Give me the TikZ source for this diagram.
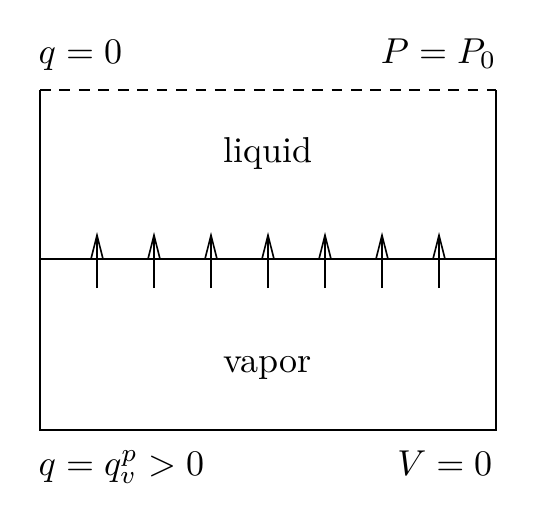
\documentclass[tikz,border=0pt]{standalone}
\usetikzlibrary{arrows.meta}
\begin{document}
\begin{tikzpicture}[x=0.2778pt,y=-0.2778pt,
  wall/.style={line width=0.45pt},
  flux/.style={-{Straight Barb[length=6.5pt,width=3.3pt,line width=0.45pt]},line width=0.45pt},
  lbl/.style={inner sep=0pt,font=\normalsize}]
\useasboundingbox (0,0) rectangle (534,504);
% box
\coordinate (tl) at (40,90);
\coordinate (tr) at (496,90);
\coordinate (bl) at (40,430);
\coordinate (br) at (496,430);
\draw[wall] (tl) -- (bl) -- (br) -- (tr);
\draw[wall,dash pattern=on 3pt off 2.4pt] (tl) -- (tr);
% interface
\coordinate (il) at (40,259);
\coordinate (ir) at (496,259);
\draw[wall] (il) -- (ir);
\foreach \k in {1,...,7}{
  \coordinate (a\k) at ({40+57*\k},288);
  \coordinate (b\k) at ({40+57*\k},232);
  \draw[flux] (a\k) -- (b\k);
}
% labels
\node[lbl,anchor=base west] (qtop) at (38,63) {$q=0$};
\node[lbl,anchor=base east] (ptop) at (497,63) {$P=P_0$};
\node[lbl,anchor=base] (liq) at (268,162) {liquid};
\node[lbl,anchor=base] (vap) at (268,372) {vapor};
\node[lbl,anchor=base west] (qbot) at (38,475) {$q=q_v^p>0$};
\node[lbl,anchor=base east] (vbot) at (493,475) {$V=0$};
\end{tikzpicture}
\end{document}
